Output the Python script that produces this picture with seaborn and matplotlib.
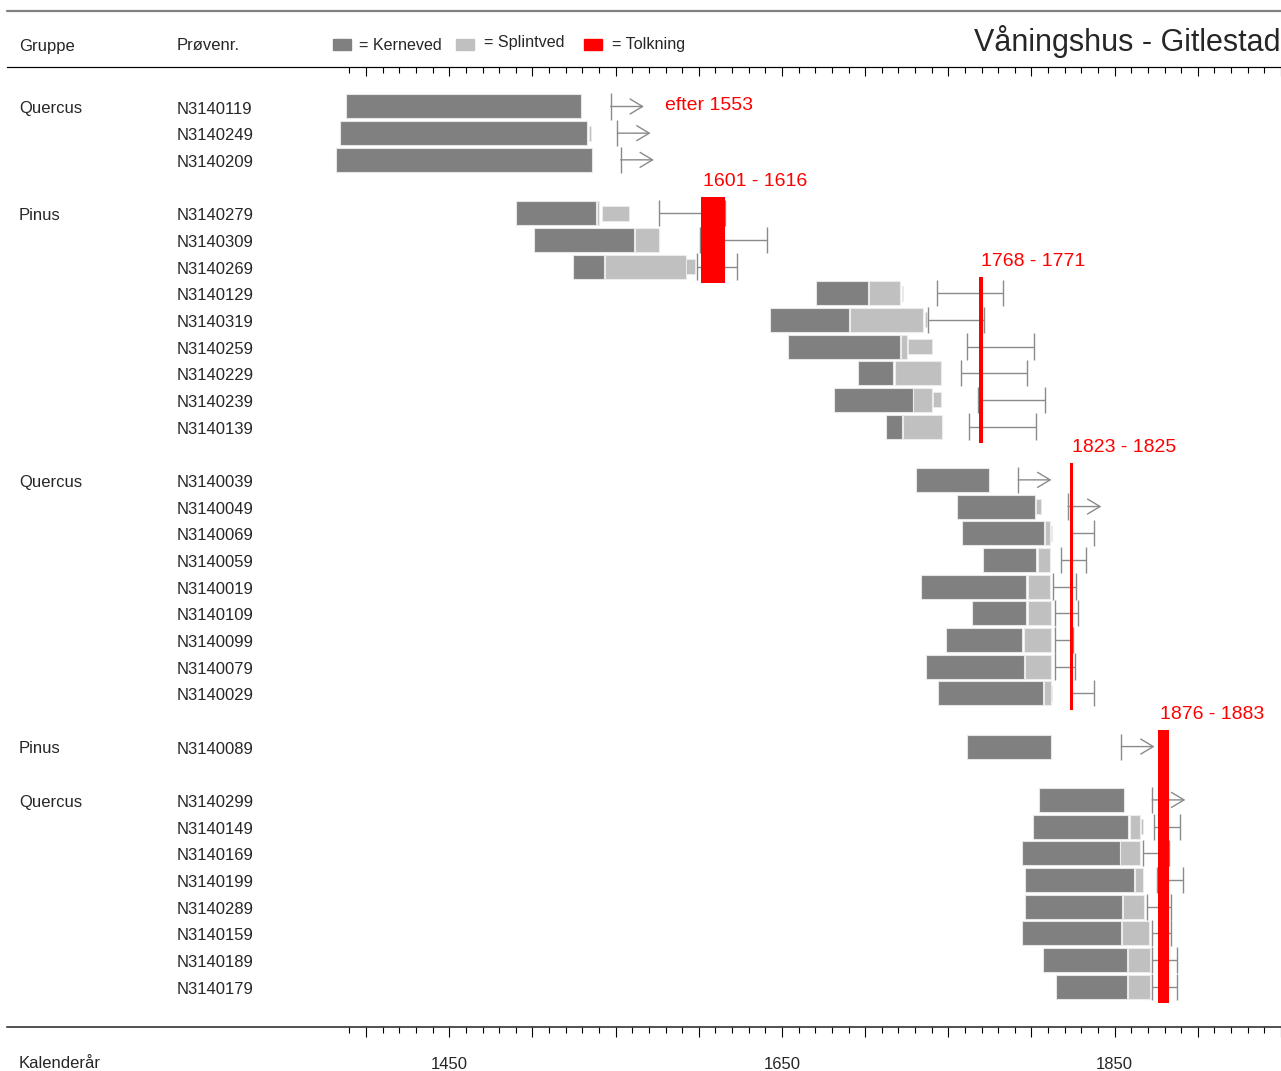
import numpy as np
import pandas as pd
import matplotlib
matplotlib.use("Agg")
import matplotlib.pyplot as plt
import matplotlib.transforms as mtransforms
from matplotlib.lines import Line2D
from matplotlib.ticker import NullFormatter
import seaborn as sns

# --- data: prøver, rækker og årstal ---
samples = ["N3140119", "N3140249", "N3140209",
           "N3140279", "N3140309", "N3140269", "N3140129", "N3140319", "N3140259",
           "N3140229", "N3140239", "N3140139",
           "N3140039", "N3140049", "N3140069", "N3140059", "N3140019", "N3140109",
           "N3140099", "N3140079", "N3140029",
           "N3140089",
           "N3140299", "N3140149", "N3140169", "N3140199", "N3140289", "N3140159",
           "N3140189", "N3140179"]
rows = [0, 1, 2,
        4, 5, 6, 7, 8, 9, 10, 11, 12,
        14, 15, 16, 17, 18, 19, 20, 21, 22,
        24,
        26, 27, 28, 29, 30, 31, 32, 33]

group_names = ["Quercus", "Pinus", "Quercus", "Pinus", "Quercus"]
group_rows = [0, 4, 14, 24, 26]

nan = np.nan
# kerneved
heart_lo = [1388, 1384, 1382,
            1490, 1501, 1524.5, 1670.5, 1643, 1653.5, 1696, 1681, 1712.5,
            1730.5, 1755, 1758, 1771, 1733.5, 1764, 1748.5, 1736.5, 1743.5,
            1761,
            1804.5, 1801, 1794.5, 1796, 1796, 1794, 1807, 1815]
heart_hi = [1529, 1533, 1536,
            1538, 1561, 1543, 1702, 1690.5, 1721, 1717, 1728.5, 1722,
            1774.5, 1802, 1807.5, 1803, 1797, 1797, 1794.5, 1795.5, 1807,
            1811.5,
            1855.5, 1858, 1853, 1861.5, 1854.5, 1854, 1857.5, 1857.5]
# splintved
sap_lo = [nan, nan, nan,
          1539, 1561.5, 1543.5, 1702.5, 1691, 1721.5, 1718, 1729, 1722.5,
          nan, nan, 1808, 1804, 1798, 1798, 1795.5, 1796, 1807.5,
          nan,
          nan, 1859, 1853.5, 1862, 1855, 1854.5, 1858, 1858]
sap_hi = [nan, nan, nan,
          1540, 1576, 1592, 1721, 1735, 1725, 1745.5, 1740, 1746.5,
          nan, nan, 1811, 1811, 1811, 1812, 1812, 1812, 1811.5,
          nan,
          nan, 1865.5, 1865.5, 1867, 1867.5, 1870.5, 1871, 1871]
# manglende splintved (smal bjælke)
est_lo = [nan, 1534, nan,
          1541.5, nan, 1592.5, 1722, 1736, 1725.5, nan, 1741, nan,
          nan, 1803, 1811.5, nan, nan, nan, nan, nan, 1812,
          nan,
          nan, 1866, nan, nan, nan, nan, nan, nan]
est_hi = [nan, 1535, nan,
          1558, nan, 1598, 1723, 1737, 1740, nan, 1745.5, nan,
          nan, 1806, 1812.5, nan, nan, nan, nan, nan, 1812.5,
          nan,
          nan, 1866.8, nan, nan, nan, nan, nan, nan]
# fældningsinterval (nan i fell_hi = "efter")
fell_lo = [1547, 1551, 1553,
           1576, 1601, 1599, 1743, 1738, 1761, 1757.5, 1768, 1762.5,
           1792, 1822, 1823.5, 1818, 1813, 1814, 1814, 1814, 1823.5,
           1854,
           1872.5, 1873.5, 1867, 1875.5, 1869.5, 1872.5, 1872.5, 1872.5]
fell_hi = [nan, nan, nan,
           1616, 1641, 1623, 1783, 1771.5, 1801.5, 1797.5, 1808, 1802.5,
           nan, nan, 1837.5, 1832.5, 1827, 1828, 1825, 1826, 1837.5,
           nan,
           nan, 1889, 1882.5, 1891, 1884, 1884, 1887.5, 1887.5]

# tolkning
interp_start = [1601, 1768, 1823, 1876]
interp_end = [1616, 1771, 1825, 1883]
interp_first_row = [4, 7, 14, 24]
interp_last_row = [6, 12, 22, 33]

df = pd.DataFrame({"sample": samples, "row": rows,
                   "heart_lo": heart_lo, "heart_hi": heart_hi,
                   "sap_lo": sap_lo, "sap_hi": sap_hi,
                   "est_lo": est_lo, "est_hi": est_hi,
                   "fell_lo": fell_lo, "fell_hi": fell_hi})

# --- style ---
sns.set_theme(style="white")
plt.rcParams["font.family"] = ["Liberation Sans", "DejaVu Sans"]
pal = sns.color_palette(["#808080", "#c0c0c0", "#ff0000"])
c_heart, c_sap, c_red = pal[0], pal[1], pal[2]
c_whisk = "#8a8a8a"

W, H = 1281, 1071
fig = plt.figure(figsize=(W / 100, H / 100), dpi=100)
ax = fig.add_axes([7 / W, (H - 1027) / H, 1 - 7 / W, 960 / H])
ax.set_xlim(1184.1, 1950.0)
ax.set_ylim(34.515, -1.481)

# bjælker
ax.barh(df["row"], df["heart_hi"] - df["heart_lo"], left=df["heart_lo"], height=0.9,
        color=c_heart, edgecolor="#e6e6e6", linewidth=0.8)
s = df.dropna(subset=["sap_lo"])
ax.barh(s["row"], s["sap_hi"] - s["sap_lo"], left=s["sap_lo"], height=0.9,
        color=c_sap, edgecolor="#ececec", linewidth=0.8)
e = df.dropna(subset=["est_lo"])
ax.barh(e["row"], e["est_hi"] - e["est_lo"], left=e["est_lo"], height=0.56,
        color=c_sap, edgecolor="#ececec", linewidth=0.6)

# fældningsintervaller
for _, r in df.iterrows():
    y = r["row"]
    ax.vlines(r["fell_lo"], y - 0.49, y + 0.49, color=c_whisk, lw=1.0)
    if np.isnan(r["fell_hi"]):
        ax.annotate("", xy=(r["fell_lo"] + 20, y), xytext=(r["fell_lo"], y),
                    arrowprops=dict(arrowstyle="->,head_length=0.75,head_width=0.45",
                                    color=c_whisk, lw=1.0, shrinkA=0, shrinkB=0))
    else:
        ax.hlines(y, r["fell_lo"], r["fell_hi"], color=c_whisk, lw=1.0)
        ax.vlines(r["fell_hi"], y - 0.49, y + 0.49, color=c_whisk, lw=1.0)

# tolkning (rød)
for a, b, r0, r1 in zip(interp_start, interp_end, interp_first_row, interp_last_row):
    ax.bar(a + 0.3, r1 - r0 + 1.24, width=b - a - 0.6, bottom=r0 - 0.62, align="edge",
           color=c_red, linewidth=0, zorder=3)
    ax.text(a + 1.5, r0 - 1.2, f"{a} - {b}", color=c_red, fontsize=14,
            ha="left", va="center", clip_on=False)
ax.text(1579.5, -0.02, "efter 1553", color=c_red, fontsize=14, ha="left", va="center")

# akser
for side in ["left", "right"]:
    ax.spines[side].set_visible(False)
ax.spines["top"].set_color("black")
ax.spines["top"].set_linewidth(0.8)
ax.spines["bottom"].set_color("#222222")
ax.spines["bottom"].set_linewidth(1.1)
ax.set_yticks([])
majors = np.arange(1400, 1951, 50)
minors = [y for y in range(1390, 1951, 10) if y % 50 != 0]
ax.set_xticks(majors, labels=[str(m) if m in (1450, 1650, 1850) else "" for m in majors])
ax.set_xticks(minors, minor=True)
ax.tick_params(axis="x", which="major", direction="out", length=7.5, width=0.8,
               color="black", labelsize=12, pad=14, bottom=True)
ax.tick_params(axis="x", which="minor", direction="out", length=4.5, width=0.8,
               color="black", bottom=True)
sec = ax.secondary_xaxis("top")
sec.set_xticks(majors)
sec.set_xticks(minors, minor=True)
sec.xaxis.set_major_formatter(NullFormatter())
sec.tick_params(axis="x", which="major", direction="in", length=6.5, width=0.8, color="black")
sec.tick_params(axis="x", which="minor", direction="in", length=4.5, width=0.8, color="black")
sec.spines["top"].set_linewidth(0.8)

# prøvenumre og grupper
lab = mtransforms.blended_transform_factory(fig.transFigure, ax.transData)
for name, y in zip(samples, rows):
    ax.text(177 / W, y + 0.1, name, transform=lab, fontsize=12, ha="left", va="center")
for name, y in zip(group_names, group_rows):
    ax.text(19 / W, y + 0.08, name, transform=lab, fontsize=12, ha="left", va="center")

# hoved
fig.add_artist(Line2D([7 / W, 1], [1 - 11 / H, 1 - 11 / H], color="#808080", lw=1.6))
fig.text(19 / W, 1 - 46 / H, "Gruppe", fontsize=12, ha="left", va="center")
fig.text(177 / W, 1 - 45 / H, "Prøvenr.", fontsize=12, ha="left", va="center")
fig.text(1 - 1 / W, 1 - 42 / H, "Våningshus - Gitlestad", fontsize=22, ha="right", va="center")
fig.text(19 / W, 1 - 1063 / H, "Kalenderår", fontsize=12, ha="left", va="center")

leg = [("= Kerneved", c_heart, 333, 359, 45), ("= Splintved", c_sap, 456, 484, 42),
       ("= Tolkning", c_red, 584, 612, 44)]
for txt, col, xs, xt, yt in leg:
    fig.patches.append(plt.Rectangle((xs / W, 1 - 50 / H), 18 / W, 11 / H,
                                     transform=fig.transFigure, color=col, figure=fig))
    fig.text(xt / W, 1 - yt / H, txt, fontsize=11.6, ha="left", va="center")

fig.savefig("out.png", dpi=100)
